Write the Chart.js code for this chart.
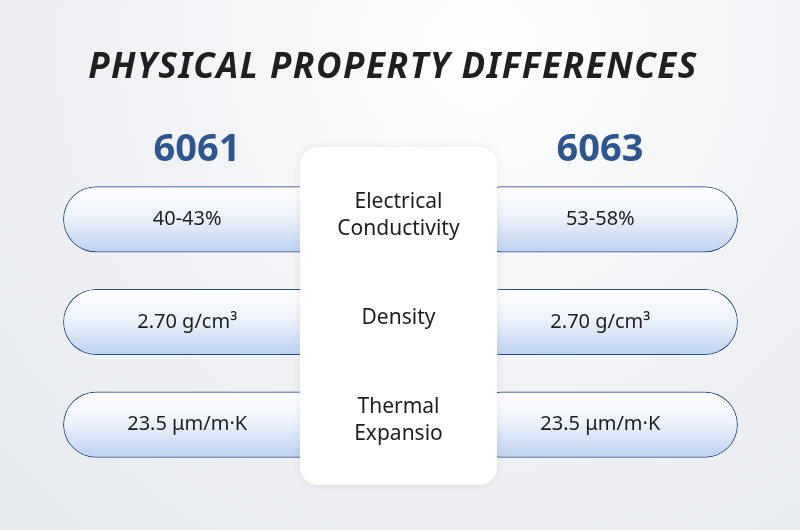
<!DOCTYPE html>
<html><head><meta charset="utf-8">
<script src="https://cdn.jsdelivr.net/npm/chart.js@4"></script>
<style>
html,body{margin:0;padding:0;width:800px;height:530px;overflow:hidden;
background:radial-gradient(ellipse at 60% 10%,#ffffff 0%,#f1f3f6 45%,#e6e9ee 100%);}
#wrap{position:absolute;left:0;top:0;width:800px;height:530px}
</style></head><body>
<div id="wrap"><canvas id="c" width="800" height="530"></canvas></div>
<script>
const properties = ["Electrical\nConductivity", "Density", "Thermal\nExpansio"];
const alloyNames = ["6061", "6063"];
const values6061 = ["40-43%", "2.70 g/cm³", "23.5 μm/m·K"];
const values6063 = ["53-58%", "2.70 g/cm³", "23.5 μm/m·K"];
const leftSpan = [0, 40];
const rightSpan = [60, 100];
const cardSpan = [35.1, 64.3];
const labelPos = [18.4, 79.6];

function pillFill(ctx){
  const ch = ctx.chart;
  if(!ch.chartArea || !ch.scales.y) return '#dbe6f5';
  const y = ch.scales.y.getPixelForValue(ctx.dataIndex);
  const g = ch.ctx.createLinearGradient(0, y-33, 0, y+33);
  g.addColorStop(0, '#ffffff');
  g.addColorStop(0.45, '#eef3fb');
  g.addColorStop(1, '#bcd2f0');
  return g;
}

const overlay = {
  id:'overlay',
  afterDatasetsDraw(chart){
    const c = chart.ctx, x = chart.scales.x, y = chart.scales.y;
    const x0 = x.getPixelForValue(cardSpan[0]), x1 = x.getPixelForValue(cardSpan[1]);
    const top = 147, bot = 485;
    c.save();
    c.shadowColor='rgba(0,0,0,0.08)'; c.shadowBlur=10;
    c.fillStyle='#ffffff';
    c.beginPath(); c.roundRect(x0, top, x1-x0, bot-top, 18); c.fill();
    c.restore();
    c.save();
    c.textAlign='center'; c.textBaseline='middle';
    c.fillStyle='#1e1e1e'; c.font='21px "Noto Sans"';
    properties.forEach((p,i)=>{
      const yc = y.getPixelForValue(i);
      const lines = p.split('\n');
      lines.forEach((l,k)=>c.fillText(l,(x0+x1)/2, yc-4 + (k-(lines.length-1)/2)*27));
    });
    c.font='20px "Noto Sans"';
    values6061.forEach((v,i)=>c.fillText(v,x.getPixelForValue(labelPos[0]), y.getPixelForValue(i)));
    values6063.forEach((v,i)=>c.fillText(v,x.getPixelForValue(labelPos[1]), y.getPixelForValue(i)));
    c.fillStyle='#2c5591'; c.font='bold 38px "Noto Sans"';
    c.fillText(alloyNames[0], 197, 150);
    c.fillText(alloyNames[1], 600, 150);
    c.fillStyle='#1f1f1f'; c.font='italic bold 35px "Noto Sans"';
    if('letterSpacing' in c) c.letterSpacing='1.5px';
    c.fillText('PHYSICAL PROPERTY DIFFERENCES', 393, 68);
    c.restore();
  }
};

new Chart(document.getElementById('c'), {
  type:'bar',
  data:{
    labels: properties,
    datasets:[
      {data: properties.map(()=>leftSpan), backgroundColor:pillFill, borderColor:'#2d4f8c', borderWidth:1.2, borderRadius:33, borderSkipped:false},
      {data: properties.map(()=>rightSpan), backgroundColor:pillFill, borderColor:'#2d4f8c', borderWidth:1.2, borderRadius:33, borderSkipped:false}
    ]
  },
  options:{
    indexAxis:'y', responsive:false, animation:false,
    devicePixelRatio:1,
    layout:{padding:{left:63,right:62,top:168,bottom:54}},
    datasets:{bar:{grouped:false, categoryPercentage:1, barPercentage:0.645}},
    scales:{
      x:{display:false,min:0,max:100},
      y:{display:false}
    },
    plugins:{legend:{display:false},tooltip:{enabled:false}}
  },
  plugins:[overlay]
});
</script></body></html>
